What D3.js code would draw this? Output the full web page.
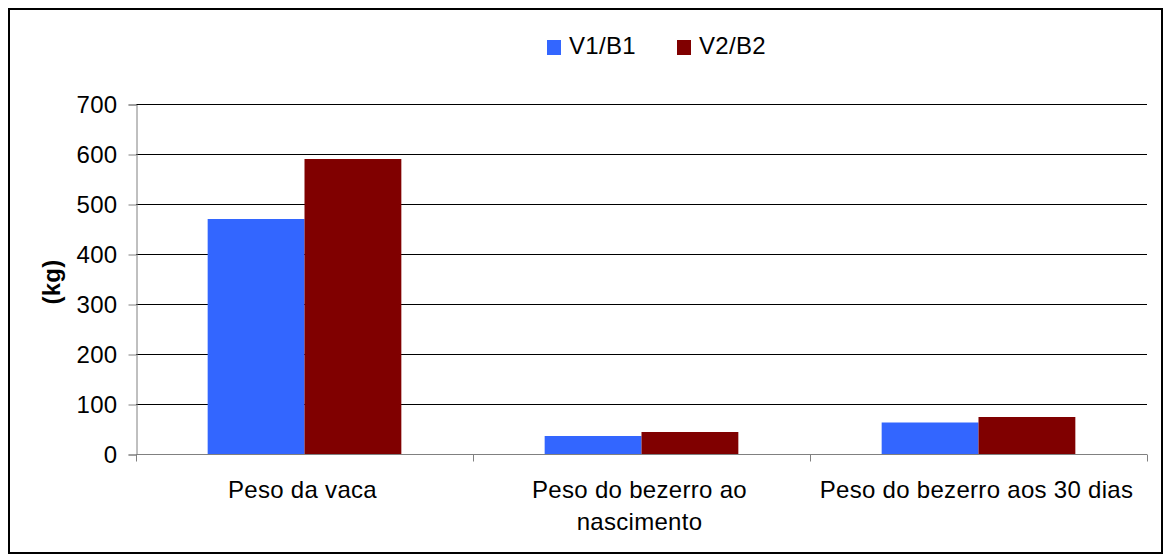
<!DOCTYPE html>
<html>
<head>
<meta charset="utf-8">
<script src="https://cdn.jsdelivr.net/npm/d3@7"></script>
<style>
body{margin:0;background:#fff;}
svg text{font-family:"Liberation Sans",Arial,sans-serif;letter-spacing:0.3px;}
</style>
</head>
<body>
<svg width="1164" height="560"></svg>
<script>
const categories = ["Peso da vaca", "Peso do bezerro ao nascimento", "Peso do bezerro aos 30 dias"]
const labelLines = [["Peso da vaca"], ["Peso do bezerro ao", "nascimento"], ["Peso do bezerro aos 30 dias"]]
const seriesNames = ["V1/B1", "V2/B2"]
const v1 = [470, 36, 63]
const v2 = [590, 44, 74]
const yTicks = [0, 100, 200, 300, 400, 500, 600, 700]
const colors = ["#3366ff", "#800000"]

const svg = d3.select("svg")
const plotLeft = 136, plotRight = 1147, plotTop = 104, plotBottom = 454
const fs = 24

svg.append('rect')
.attr('x',9).attr('y',9).attr('width',1153).attr('height',544)
.attr('fill','none').attr('stroke','#000').attr('stroke-width',2)

const xScale = d3.scaleBand().domain(categories).range([plotLeft,plotRight])
const inner = d3.scaleBand().domain(seriesNames).range([0,xScale.bandwidth()]).paddingOuter(0.74)
const yScale = d3.scaleLinear().domain([0,700]).range([plotBottom,plotTop])

// gridlines
svg.append('g')
.selectAll('line')
.data(yTicks.filter(d=>d>0))
.enter()
.append('line')
.attr('x1',plotLeft).attr('x2',plotRight)
.attr('y1',d=>yScale(d)+0.5).attr('y2',d=>yScale(d)+0.5)
.attr('stroke','#000')

// bars
const rows = categories.map((c,i)=>({cat:c, vals:[v1[i],v2[i]]}))
const groups = svg.append('g').selectAll('g')
.data(rows).enter().append('g')
.attr('transform',d=>`translate(${xScale(d.cat)},0)`)
groups.selectAll('rect')
.data(d=>d.vals.map((v,j)=>({name:seriesNames[j],value:v,j:j})))
.enter().append('rect')
.attr('x',d=>inner(d.name))
.attr('width',inner.bandwidth())
.attr('y',d=>yScale(d.value))
.attr('height',d=>plotBottom-yScale(d.value))
.attr('fill',d=>colors[d.j])

// y axis
const yAxis = svg.append('g')
.attr('transform',`translate(${plotLeft+0.5},0.5)`)
.call(d3.axisLeft(yScale).tickValues(yTicks).tickSize(8).tickPadding(11))
yAxis.select('.domain').attr('stroke','#808080')
yAxis.selectAll('.tick line').attr('stroke','#808080')
yAxis.selectAll('text').attr('font-size',fs).attr('fill','#000')
.attr('font-family','"Liberation Sans",Arial,sans-serif')

// x axis
const xAxisG = svg.append('g').attr('transform',`translate(0,${plotBottom+0.5})`)
xAxisG.append('line').attr('x1',plotLeft).attr('x2',plotRight).attr('stroke','#808080')
xAxisG.selectAll('.xt')
.data(d3.range(categories.length+1))
.enter().append('line')
.attr('x1',i=>Math.round(plotLeft+i*xScale.step())+0.5)
.attr('x2',i=>Math.round(plotLeft+i*xScale.step())+0.5)
.attr('y1',0).attr('y2',7).attr('stroke','#808080')

const xl = svg.append('g').selectAll('text')
.data(categories).enter().append('text')
.attr('x',d=>xScale(d)+xScale.bandwidth()/2 - 2)
.attr('y',498)
.attr('text-anchor','middle')
.attr('font-size',fs)
xl.selectAll('tspan')
.data((d,i)=>labelLines[i])
.enter().append('tspan')
.attr('x',function(){return this.parentNode.getAttribute('x')})
.attr('dy',(d,k)=>k===0?0:32)
.text(d=>d)

// y title
svg.append('text')
.attr('transform','translate(60,282) rotate(-90)')
.attr('text-anchor','middle')
.attr('font-size',fs).attr('font-weight','bold')
.text('(kg)')

// legend
const legendX = [547, 677]
const lg = svg.append('g').selectAll('g')
.data(seriesNames).enter().append('g')
.attr('transform',(d,i)=>`translate(${legendX[i]},40)`)
lg.append('rect').attr('width',14).attr('height',15).attr('fill',(d,i)=>colors[i])
lg.append('text').attr('x',22).attr('y',14).attr('font-size',fs).text(d=>d)
</script>
</body>
</html>
